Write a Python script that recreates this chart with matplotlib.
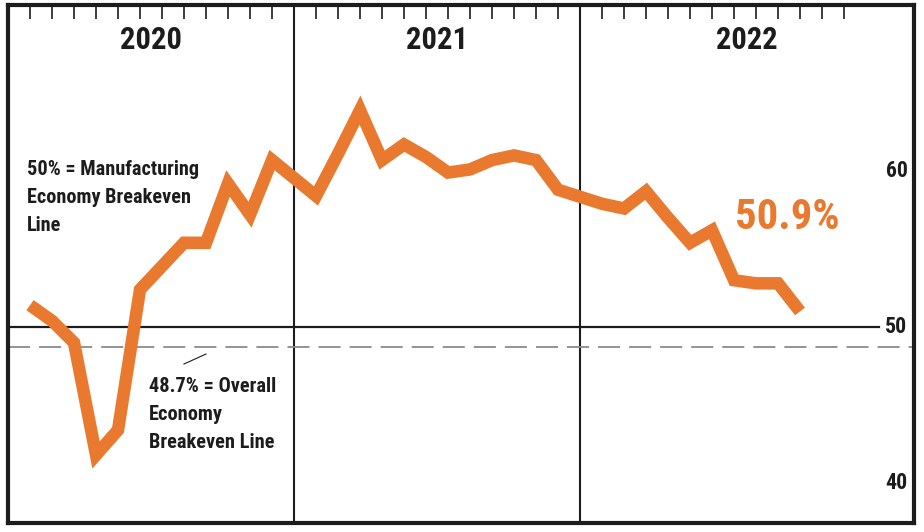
import matplotlib
matplotlib.use("Agg")
import matplotlib.pyplot as plt
from matplotlib import font_manager as fm
import numpy as np

#%% Data (monthly index)
years = ["2020", "2021", "2022"]
pmi_2020 = [51.4, 50.4, 49.0, 41.8, 43.4, 52.4, 53.9, 55.4, 55.4, 59.2, 57.2, 60.7]
pmi_2021 = [58.4, 61.1, 63.9, 60.7, 61.7, 60.9, 59.9, 60.1, 60.7, 61.0, 60.7, 58.8]
pmi_2022 = [57.9, 57.6, 58.7, 57.0, 55.4, 56.2, 53.0, 52.8, 52.8, 51.0]
manuf_breakeven = 50.0
overall_breakeven = 48.7
y_labels = [40, 50, 60]
latest_label = "50.9%"

#%% Fonts: the narrowest bold face that is installed
names = {f.name for f in fm.fontManager.ttflist}
cond = dict(family="DejaVu Sans", stretch="condensed", weight="bold")
for cand in ["Noto Sans ExtraCondensed", "Noto Sans Condensed", "Liberation Sans Narrow",
             "Roboto Condensed", "Noto Sans SemiCondensed"]:
    if cand in names:
        cond = dict(family=cand, weight="bold")
        break

orange = "#E9792F"
dark = "#1c1c1c"

# each year gets 13 slots: divider, Jan..Dec
x_vals = []
for i, vals in enumerate([pmi_2020, pmi_2021, pmi_2022]):
    x_vals += [13 * i + m + 1 for m in range(len(vals))]
y_vals = pmi_2020 + pmi_2021 + pmi_2022
tick_pos = [13 * i + m for i in range(3) for m in range(1, 13)]

fig = plt.figure(figsize=(9.24, 5.32), dpi=100)
ax = fig.add_axes([8 / 924, 1 - 523 / 532, 906 / 924, 518 / 532])
x_max = 41.18
ax.set(xlim=(0, x_max), ylim=(37.44, 70.64))

for s in ax.spines.values():
    s.set_linewidth(3)
    s.set_color(dark)

ax.set_xticks(tick_pos)
ax.set_yticks([])
ax.tick_params(axis="x", top=True, bottom=False, labeltop=False, labelbottom=False,
               direction="in", length=10, width=1.2, color=dark)

# year dividers
for d in [13, 26]:
    ax.axvline(d, color=dark, lw=1.5, zorder=1)

# breakeven lines
ax.plot([0, 39.6], [manuf_breakeven] * 2, color=dark, lw=1.6, zorder=1)
ax.axhline(overall_breakeven, color="#8a8a8a", lw=1.3, linestyle=(0, (12.2, 5.0)), zorder=1)

ax.plot(x_vals, y_vals, color=orange, lw=9, solid_joinstyle="miter",
        solid_capstyle="butt", zorder=3)

# texts, each sized afterwards to the width it has in the original (px)
fit = []
year_x = [6.5, 19.5, (26 + x_max) / 2]
for yx, yr in zip(year_x, years):
    t = ax.text(yx, 68.4, yr, ha="center", va="center", fontsize=20, color=dark, **cond)
    fit.append((t, 62))

for v in y_labels:
    t = ax.text(40.88, v, str(v), ha="right", va="center", fontsize=14, color=dark, **cond)
    fit.append((t, 22))

t = ax.text(0.86, 58.3, "50% = Manufacturing\nEconomy Breakeven\nLine", ha="left", va="center",
            fontsize=12, linespacing=1.6, color=dark, **cond)
fit.append((t, 171))
t = ax.text(6.4, 44.4, "48.7% = Overall\nEconomy\nBreakeven Line", ha="left", va="center",
            fontsize=12, linespacing=1.6, color=dark, **cond)
fit.append((t, 127))
ax.plot([8.0, 9.0], [47.63, 48.27], color=dark, lw=0.8)

t = ax.text(33.05, 57.0, latest_label, ha="left", va="center", fontsize=26, color=orange, **cond)
fit.append((t, 105))

fig.canvas.draw()
r = fig.canvas.get_renderer()
for t, w in fit:
    t.set_fontsize(t.get_fontsize() * w / t.get_window_extent(r).width)

plt.savefig("out.png", dpi=100)
